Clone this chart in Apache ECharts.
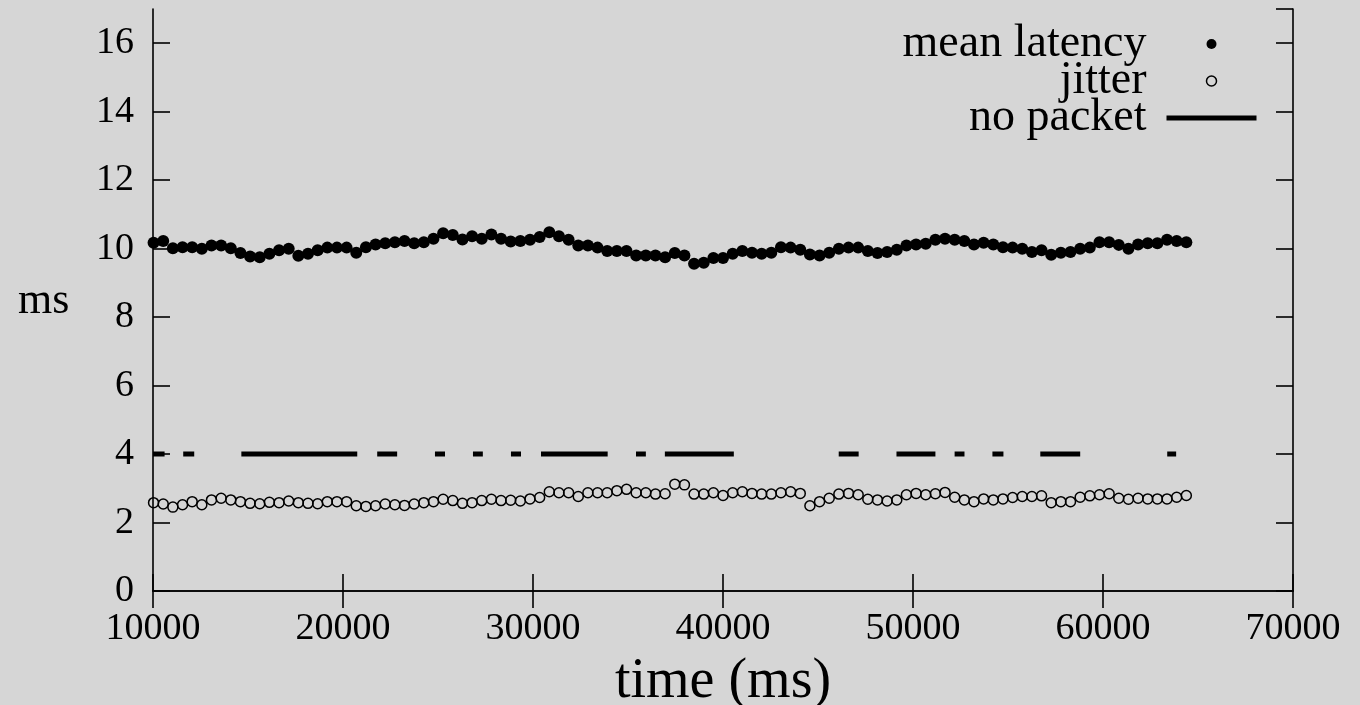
<!DOCTYPE html>
<html><head><meta charset="utf-8">
<script src="https://cdn.jsdelivr.net/npm/echarts@6/dist/echarts.min.js"></script>
<style>html,body{margin:0;padding:0;background:#d6d6d6;}#c{width:1360px;height:705px;}</style>
</head><body><div id="c"></div>
<script>
// sample times (ms)
const times = [10030,10538,11046,11554,12062,12570,13078,13586,14094,14602,15110,15618,16126,16634,17142,17650,18158,18666,19174,19682,
20190,20698,21206,21714,22222,22730,23238,23746,24254,24762,25270,25778,26286,26794,27302,27810,28318,28826,29334,29842,
30350,30858,31366,31874,32382,32890,33398,33906,34414,34922,35430,35938,36446,36954,37462,37970,38478,38986,39494,40002,
40510,41018,41526,42034,42542,43050,43558,44066,44574,45082,45590,46098,46606,47114,47622,48130,48638,49146,49654,50162,
50670,51178,51686,52194,52702,53210,53718,54226,54734,55242,55750,56258,56766,57274,57782,58290,58798,59306,59814,60322,
60830,61338,61846,62354,62862,63370,63878,64386];
const meanLatency = [10.17,10.22,10.01,10.04,10.04,10.00,10.09,10.09,10.01,9.87,9.77,9.75,9.85,9.95,10.00,9.79,9.85,9.95,10.03,10.03,
10.03,9.88,10.04,10.12,10.16,10.19,10.22,10.16,10.19,10.29,10.45,10.40,10.27,10.36,10.29,10.41,10.29,10.21,10.22,10.26,
10.34,10.48,10.36,10.26,10.09,10.09,10.03,9.93,9.93,9.93,9.80,9.80,9.80,9.75,9.87,9.80,9.56,9.59,9.73,9.73,
9.85,9.93,9.88,9.85,9.88,10.04,10.03,9.97,9.83,9.80,9.88,10.00,10.03,10.03,9.93,9.87,9.90,9.97,10.09,10.12,
10.14,10.26,10.29,10.26,10.22,10.12,10.17,10.12,10.04,10.03,10.00,9.90,9.95,9.82,9.88,9.90,10.00,10.03,10.19,10.19,
10.11,10.00,10.12,10.16,10.16,10.26,10.22,10.19];
const jitter = [2.58,2.54,2.45,2.52,2.61,2.52,2.66,2.71,2.66,2.61,2.56,2.55,2.59,2.58,2.63,2.58,2.56,2.55,2.61,2.61,
2.61,2.49,2.47,2.49,2.54,2.52,2.50,2.54,2.58,2.61,2.68,2.64,2.56,2.58,2.64,2.68,2.64,2.65,2.63,2.69,
2.73,2.90,2.87,2.87,2.76,2.87,2.87,2.87,2.93,2.97,2.87,2.87,2.83,2.84,3.12,3.10,2.83,2.83,2.87,2.79,
2.87,2.90,2.85,2.83,2.83,2.87,2.90,2.85,2.49,2.61,2.71,2.83,2.85,2.81,2.68,2.66,2.63,2.66,2.81,2.85,
2.81,2.84,2.88,2.74,2.66,2.61,2.69,2.66,2.69,2.73,2.76,2.76,2.78,2.58,2.61,2.61,2.74,2.78,2.81,2.84,
2.71,2.68,2.71,2.69,2.69,2.69,2.74,2.79];
// "no packet" intervals (ms), drawn at level 4
const noPacketStart = [10000,11590,14650,21800,24840,26840,28840,30420,35420,36940,46090,49130,52190,54180,56700,63380];
const noPacketEnd   = [10610,12170,20750,22850,25370,27360,29370,33930,35940,40570,47140,51180,52710,54760,58800,63850];
const noPacketLevel = 4;
const seriesNames = ['mean latency', 'jitter', 'no packet'];
const xRange = [10000, 70000, 10000];
const yRange = [0, 17, 2];
const xTitle = 'time (ms)';
const yTitle = 'ms';

const FONT = "'Liberation Serif', 'DejaVu Serif', serif";
const latData = times.map((t, i) => [t, meanLatency[i]]);
const jitData = times.map((t, i) => [t, jitter[i]]);
const npData = [];
noPacketStart.forEach((s, i) => {
  npData.push([s, noPacketLevel], [noPacketEnd[i], noPacketLevel], [noPacketEnd[i], '-']);
});

const axisLineStyle = { color: '#000', width: 1.6 };
const chart = echarts.init(document.getElementById('c'), null, { renderer: 'canvas' });
chart.setOption({
  backgroundColor: '#d6d6d6',
  animation: false,
  grid: { left: 153, right: 67, top: 9, bottom: 114, containLabel: false, outerBoundsMode: 'none' },
  textStyle: { fontFamily: FONT },
  legend: {
    orient: 'vertical',
    right: 96,
    top: 16,
    align: 'right',
    itemWidth: 90,
    itemHeight: 10,
    itemGap: -9,
    selectedMode: false,
    textStyle: { fontFamily: FONT, fontSize: 46, color: '#000', padding: [0, 15, 0, 0] },
    data: [
      { name: seriesNames[0], icon: 'circle' },
      { name: seriesNames[1], icon: 'circle', itemStyle: { borderWidth: 1.5, borderColor: '#000', color: 'rgba(0,0,0,0)' } },
      { name: seriesNames[2], itemStyle: { color: 'rgba(0,0,0,0)', borderWidth: 0, opacity: 0 }, lineStyle: { width: 5, color: '#000', opacity: 1 } }
    ]
  },
  xAxis: [
    {
      type: 'value', min: xRange[0], max: xRange[1], interval: xRange[2],
      name: xTitle, nameLocation: 'middle', nameGap: 63,
      nameTextStyle: { fontFamily: FONT, fontSize: 56, color: '#000' },
      axisLine: { show: true, lineStyle: axisLineStyle },
      axisTick: { show: true, inside: true, length: 17, lineStyle: axisLineStyle },
      axisLabel: { fontFamily: FONT, fontSize: 38, color: '#000', margin: 19, formatter: v => String(v) },
      splitLine: { show: false }
    },
    {
      type: 'value', position: 'top', min: xRange[0], max: xRange[1], interval: xRange[2],
      axisLine: { show: true, lineStyle: axisLineStyle },
      axisTick: { show: true, inside: true, length: 17, lineStyle: axisLineStyle },
      axisLabel: { show: false }, splitLine: { show: false }
    }
  ],
  yAxis: [
    {
      type: 'value', min: yRange[0], max: yRange[1], interval: yRange[2],
      axisLine: { show: true, lineStyle: axisLineStyle },
      axisTick: { show: true, inside: true, length: 17, lineStyle: axisLineStyle },
      axisLabel: { fontFamily: FONT, fontSize: 38, color: '#000', margin: 19, showMaxLabel: false, formatter: v => String(v) },
      splitLine: { show: false }
    },
    {
      type: 'value', position: 'right', min: yRange[0], max: yRange[1], interval: yRange[2],
      axisLine: { show: true, lineStyle: axisLineStyle },
      axisTick: { show: true, inside: true, length: 17, lineStyle: axisLineStyle },
      axisLabel: { show: false }, splitLine: { show: false }
    }
  ],
  graphic: [{
    type: 'text', left: 18, top: 279,
    style: { text: yTitle, font: "44px 'Liberation Serif', serif", fill: '#000' }
  }],
  series: [
    {
      name: seriesNames[2], type: 'line', data: npData, showSymbol: false, symbol: 'none',
      connectNulls: false,
      lineStyle: { color: '#000', width: 5, cap: 'butt' },
      itemStyle: { color: '#000' },
      emphasis: { disabled: true }, silent: true, z: 2
    },
    {
      name: seriesNames[1], type: 'scatter', data: jitData, symbol: 'circle', symbolSize: 10,
      itemStyle: { color: 'rgba(0,0,0,0)', borderColor: '#000', borderWidth: 1.5, opacity: 1 },
      emphasis: { disabled: true }, silent: true, z: 3
    },
    {
      name: seriesNames[0], type: 'scatter', data: latData, symbol: 'circle', symbolSize: 12,
      itemStyle: { color: '#000', opacity: 1 },
      emphasis: { disabled: true }, silent: true, z: 4
    }
  ]
});
</script></body></html>
